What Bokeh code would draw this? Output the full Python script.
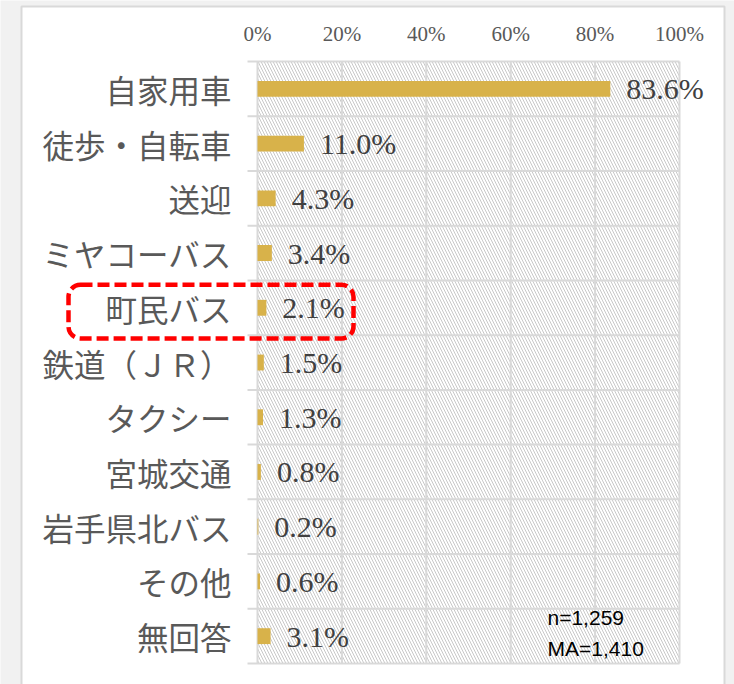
from bokeh.plotting import figure
from bokeh.models import Range1d, ColumnDataSource, Label, BoxAnnotation
from bokeh.core.properties import value
from bokeh.embed import file_html
from bokeh.resources import INLINE

categories = ["自家用車", "徒歩・自転車", "送迎", "ミヤコーバス", "町民バス", "鉄道（ＪＲ）",
              "タクシー", "宮城交通", "岩手県北バス", "その他", "無回答"]
values = [83.6, 11.0, 4.3, 3.4, 2.1, 1.5, 1.3, 0.8, 0.2, 0.6, 3.1]
x_ticks = [0, 20, 40, 60, 80, 100]
x_tick_labels = ["0%", "20%", "40%", "60%", "80%", "100%"]
note_lines = ["n=1,259", "MA=1,410"]
highlight = "町民バス"

n = len(categories)
centers = [i + 0.5 for i in range(n)]
bounds = list(range(n + 1))

GRID = "#d9d9d9"
OUTER = "#f1f1f1"
W, H = 734, 684
PX_X = 4.22     # pixels per percent
PX_Y = 54.73    # pixels per category row
X0, Y0 = 257, 61  # pixel position of (0 %, first row top)

p = figure(width=W, height=H, output_backend="svg", toolbar_location=None,
           x_range=Range1d(-X0 / PX_X, (W - X0) / PX_X),
           y_range=Range1d((H - Y0) / PX_Y, -Y0 / PX_Y),
           x_axis_type=None, y_axis_type=None,
           min_border=0)
p.border_fill_color = OUTER
p.background_fill_color = OUTER
p.outline_line_color = None
p.grid.visible = False

# white card
p.quad(left=[(21 - X0) / PX_X], right=[(724 - X0) / PX_X], top=[(6 - Y0) / PX_Y],
       bottom=[(H + 20 - Y0) / PX_Y], fill_color="white", line_color=GRID, line_width=2)

# hatched plot area
p.quad(left=[0], right=[100], top=[0], bottom=[n], fill_color="white",
       line_color=None, hatch_pattern="\\", hatch_color="#c8c8c8",
       hatch_weight=1, hatch_scale=6)

# grid lines (including plot-area border); category separators stick out to the left
p.segment(x0=x_ticks, x1=x_ticks, y0=[0] * len(x_ticks), y1=[n] * len(x_ticks),
          line_color=GRID, line_width=2)
p.segment(x0=[-10 / PX_X] * len(bounds), x1=[100] * len(bounds), y0=bounds, y1=bounds,
          line_color=GRID, line_width=2)

# bars
src = ColumnDataSource(dict(y=centers, v=values, cat=categories,
                            zero=[0] * n, lab=[f"{v:.1f}%" for v in values]))
p.hbar(y="y", left=0, right="v", height=0.29, source=src,
       fill_color="#D8B24A", line_color=None)

# value labels
p.text(x="v", y="y", text="lab", source=src, x_offset=16,
       text_baseline="middle", text_align="left",
       text_font=value("Liberation Serif"), text_font_size="30px",
       text_color="#404040")

# category labels (left of the plot area)
p.text(x="zero", y="y", text="cat", source=src, x_offset=-26,
       text_baseline="middle", text_align="right",
       text_font=value("Noto Sans CJK JP"), text_font_size="31.5px",
       text_color="#595959")

# percent scale labels (above the plot area)
tsrc = ColumnDataSource(dict(x=x_ticks, y=[0] * len(x_ticks), t=x_tick_labels))
p.text(x="x", y="y", text="t", source=tsrc, y_offset=-28,
       text_baseline="middle", text_align="center",
       text_font=value("Liberation Serif"), text_font_size="21px",
       text_color="#595959")

# highlight box around the focus category
hi = categories.index(highlight)
p.add_layout(BoxAnnotation(left=(68 - X0) / PX_X, right=(353 - X0) / PX_X,
                           top=hi + 0.08, bottom=hi + 1.06,
                           fill_alpha=0, line_color="#ff0000", line_alpha=1,
                           line_width=4.5, line_dash="12 5", border_radius=12))

# sample note
for k, t in enumerate(note_lines):
    p.add_layout(Label(x=(547 - X0) / PX_X, y=n - 0.84 + 0.57 * k, text=t,
                       text_baseline="middle", text_font="Liberation Sans",
                       text_font_size="21px", text_color="black"))

open("out.html", "w").write(file_html(p, INLINE))
